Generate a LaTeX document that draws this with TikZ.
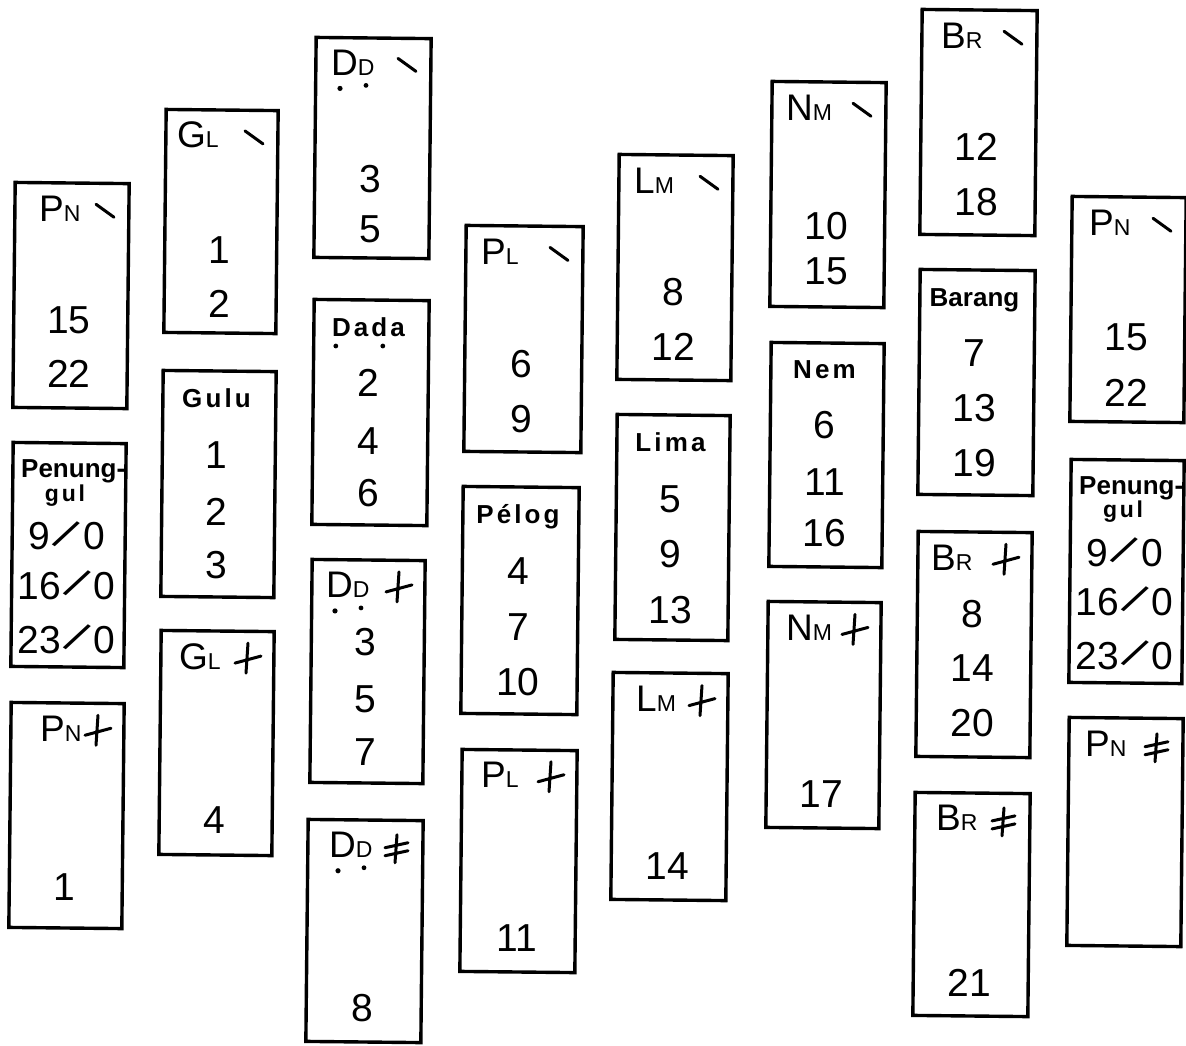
\documentclass[tikz,border=0pt]{standalone}
\usepackage{fontspec}
\usepackage{graphicx}
\setmainfont{Liberation Sans}
\newfontfamily\namefont[LetterSpace=12]{Liberation Sans}
\tikzset{
  card/.style={draw, line width=3.4pt, inner sep=0pt, outer sep=0pt, rotate=-0.6},
  numtxt/.style={inner sep=0pt, font=\fontsize{39}{39}\selectfont},
  ttltxt/.style={inner sep=0pt, anchor=base west, font=\fontsize{37}{37}\selectfont},
  nametxt/.style={inner sep=0pt, anchor=base, font=\namefont\bfseries\fontsize{26}{26}\selectfont},
  mk/.style={line width=3pt, line cap=round},
  dotu/.style={fill=black},
}
\newcommand\smc[1]{{\fontsize{23}{23}\selectfont #1}}
\newcommand\fsl{\kern2.5pt\rotatebox[origin=c]{-32}{\scalebox{1.15}{/}}\kern2.5pt}
\newcommand\cardbox[5]{%
  \pgfmathsetmacro\bxL{#2}\pgfmathsetmacro\bxT{#3}\pgfmathsetmacro\bxR{#4}%
  \pgfmathsetmacro\bxH{#5-#3}\pgfmathsetmacro\bxW{#4-#2}%
  \pgfmathsetmacro\bxX{(#2+#4)/2-2}\pgfmathsetmacro\bxTB{#3+0.17*(#5-#3)}%
  \def\bxN{#1}%
  \node[card, minimum width=\bxW pt, minimum height=\bxH pt] (#1) at ({(#2+#4)/2},{(#3+#5)/2}) {};}
\newcommand\cnum[3]{\node[numtxt] (\bxN-#1) at (\bxX,{\bxT+#2*\bxH}) {#3};}
\newcommand\cttl[3]{\node[ttltxt] (\bxN-t) at ({\bxL+#1},\bxTB) {#2\smc{#3}};}
\newcommand\cname[2][]{\node[nametxt,#1] (\bxN-t) at (\bxX,{\bxT+0.16*\bxH}) {#2};}
\newcommand\dotsDD{\fill[dotu] (\bxN-t.base west) ++(9,13) circle[radius=2.6pt];
  \fill[dotu] (\bxN-t.base west) ++(35,10) circle[radius=2.4pt];}
\newcommand\mslash{\draw[mk] ({\bxR-32},{\bxTB-17}) -- ({\bxR-14},{\bxTB-4});}
\newcommand\mcross{\draw[mk] ({\bxR-25},{\bxTB-26}) -- ({\bxR-27},{\bxTB+4})
  ({\bxR-38},{\bxTB-6}) -- ({\bxR-12},{\bxTB-13});}
\newcommand\mdcross{\draw[mk] ({\bxR-25},{\bxTB-23}) -- ({\bxR-27},{\bxTB+5})
  ({\bxR-37},{\bxTB-10}) -- ({\bxR-14},{\bxTB-15})
  ({\bxR-37},{\bxTB-2}) -- ({\bxR-14},{\bxTB-7});}
\newcommand\cpen{%
  \node[inner sep=0pt, anchor=base west, font=\bfseries\fontsize{26}{26}\selectfont] (\bxN-t) at ({\bxL+9},{\bxT+0.155*\bxH}) {Penung-};
  \node[nametxt, font=\namefont\bfseries\fontsize{23}{23}\selectfont] (\bxN-u) at ({\bxL+53},{\bxT+0.26*\bxH}) {gul};
  \cnum{a}{0.405}{9\fsl0}
  \cnum{b}{0.625}{16\fsl0}
  \cnum{c}{0.867}{23\fsl0}}
\begin{document}
\begin{tikzpicture}[x=1pt,y=-1pt]
\fill[white] (0,0) rectangle (1186,1045);
\useasboundingbox (0,0) rectangle (1186,1045);
% column 1
\cardbox{pnL}{14}{183}{128}{408} \cttl{25}{P}{N} \mslash \cnum{a}{0.61}{15} \cnum{b}{0.85}{22}
\cardbox{penL}{12}{443}{125}{667} \cpen
\cardbox{pnxL}{10}{703}{123}{928} \cttl{30}{P}{N} \mcross \cnum{a}{0.82}{1}
% column 2
\cardbox{glA}{165}{110}{277}{333} \cttl{12}{G}{L} \mslash \cnum{a}{0.63}{1} \cnum{b}{0.87}{2}
\cardbox{gulu}{162}{371}{275}{597} \cname{Gulu} \cnum{a}{0.37}{1} \cnum{b}{0.625}{2} \cnum{c}{0.86}{3}
\cardbox{glX}{160}{631}{273}{855} \cttl{19}{G}{L} \mcross \cnum{a}{0.845}{4}
% column 3
\cardbox{ddA}{315}{38}{430}{258} \cttl{16}{D}{D} \dotsDD \mslash \cnum{a}{0.64}{3} \cnum{b}{0.87}{5}
\cardbox{dada}{313}{300}{428}{525} \cname{Dada}
  \fill[dotu] (dada-t.base west) ++(4,10) circle[radius=2.4pt];
  \fill[dotu] (dada-t.base west) ++(51,10) circle[radius=2.4pt];
  \cnum{a}{0.37}{2} \cnum{b}{0.625}{4} \cnum{c}{0.86}{6}
\cardbox{ddX}{311}{560}{424}{783} \cttl{15}{D}{D} \dotsDD \mcross \cnum{a}{0.37}{3} \cnum{b}{0.625}{5} \cnum{c}{0.86}{7}
\cardbox{ddY}{307}{820}{422}{1042} \cttl{22}{D}{D} \dotsDD \mdcross \cnum{a}{0.845}{8}
% column 4
\cardbox{plA}{465}{226}{582}{452} \cttl{16}{P}{L} \mslash \cnum{a}{0.61}{6} \cnum{b}{0.855}{9}
\cardbox{pelog}{462}{487}{578}{714} \cname{Pélog} \cnum{a}{0.37}{4} \cnum{b}{0.615}{7} \cnum{c}{0.86}{10}
\cardbox{plX}{461}{750}{576}{972} \cttl{20}{P}{L} \mcross \cnum{a}{0.845}{11}
% column 5
\cardbox{lmA}{618}{155}{732}{380} \cttl{16}{L}{M} \mslash \cnum{a}{0.61}{8} \cnum{b}{0.855}{12}
\cardbox{lima}{616}{415}{729}{640} \cname{Lima} \cnum{a}{0.375}{5} \cnum{b}{0.62}{9} \cnum{c}{0.865}{13}
\cardbox{lmX}{612}{673}{727}{900} \cttl{24}{L}{M} \mcross \cnum{a}{0.85}{14}
% column 6
\cardbox{nmA}{771}{82}{885}{307} \cttl{15}{N}{M} \mslash \cnum{a}{0.64}{10} \cnum{b}{0.84}{15}
\cardbox{nem}{770}{343}{883}{567} \cname{Nem} \cnum{a}{0.365}{6} \cnum{b}{0.62}{11} \cnum{c}{0.85}{16}
\cardbox{nmX}{767}{602}{880}{828} \cttl{19}{N}{M} \mcross \cnum{a}{0.85}{17}
% column 7
\cardbox{brA}{921}{10}{1036}{235} \cttl{20}{B}{R} \mslash \cnum{a}{0.61}{12} \cnum{b}{0.855}{18}
\cardbox{barang}{919}{270}{1034}{495} \cname[font=\bfseries\fontsize{26}{26}\selectfont]{Barang} \cnum{a}{0.37}{7} \cnum{b}{0.615}{13} \cnum{c}{0.86}{19}
\cardbox{brX}{917}{532}{1031}{757} \cttl{14}{B}{R} \mcross \cnum{a}{0.365}{8} \cnum{b}{0.605}{14} \cnum{c}{0.85}{20}
\cardbox{brY}{914}{793}{1029}{1016} \cttl{22}{B}{R} \mdcross \cnum{a}{0.85}{21}
% column 8
\cardbox{pnR}{1071}{197}{1185}{422} \cttl{18}{P}{N} \mslash \cnum{a}{0.625}{15} \cnum{b}{0.87}{22}
\cardbox{penR}{1070}{460}{1183}{683} \cpen
\cardbox{pnY}{1068}{718}{1182}{946} \cttl{17}{P}{N} \mdcross
\end{tikzpicture}
\end{document}
